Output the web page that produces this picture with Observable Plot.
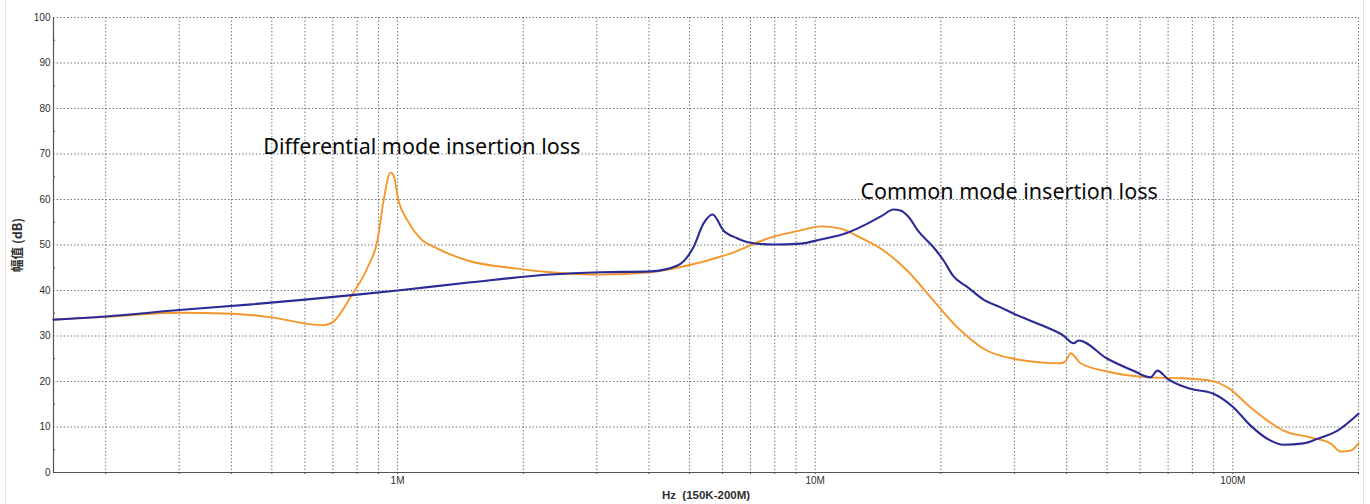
<!DOCTYPE html>
<html>
<head>
<meta charset="utf-8">
<script src="https://cdn.jsdelivr.net/npm/d3@7"></script>
<script src="https://cdn.jsdelivr.net/npm/@observablehq/plot@0.6"></script>
<style>
  html, body { margin: 0; padding: 0; background: #fff; }
  #wrap { position: relative; width: 1370px; height: 504px; overflow: hidden; }
  .edge { position: absolute; top: 0; width: 1px; height: 504px; background: #e2e2e2; }
</style>
</head>
<body>
<div id="wrap">
  <div class="edge" style="left:5px"></div>
  <div class="edge" style="left:1363px"></div>
</div>
<script>
// Frequencies in MHz, values in dB
const cmFreq = [0.15, 0.2, 0.3, 0.44, 0.6, 0.8, 1.0, 1.5, 2.32, 3.06, 4.03, 4.68, 5.11, 5.4, 5.68, 6.03, 6.5, 7.0, 7.95, 9.22, 10.3, 11.95, 13.34, 14.5, 15.4, 16.0, 16.8, 17.6, 19.2, 20.3, 21.4, 23.2, 25.3, 27.8, 29.9, 35, 39.3, 41.6, 42.7, 50.1, 58, 63.5, 66.0, 69.8, 79.2, 89.9, 100.4, 110.3, 123.2, 132.3, 147.7, 159.5, 178.2, 200];
const cmDb   = [33.6, 34.3, 35.7, 36.9, 38.0, 39.1, 40.0, 41.8, 43.5, 44.0, 44.2, 45.5, 49.5, 54.7, 56.7, 53.2, 51.5, 50.5, 50.1, 50.3, 51.2, 52.7, 54.7, 56.5, 57.8, 57.6, 56.0, 53.2, 49.5, 46.6, 43.2, 40.7, 38.0, 36.3, 34.9, 32.3, 30.1, 28.4, 29.0, 25.0, 22.3, 20.9, 22.4, 20.6, 18.4, 17.3, 14.3, 10.3, 7.0, 6.1, 6.4, 7.4, 9.2, 12.9];

const dmFreq = [0.15, 0.2, 0.3, 0.4, 0.5, 0.629, 0.665, 0.703, 0.718, 0.771, 0.847, 0.895, 0.926, 0.962, 0.978, 1.005, 1.056, 1.135, 1.247, 1.47, 1.94, 2.32, 3.06, 4.03, 4.68, 6.38, 7.69, 9.22, 10.3, 11.5, 12.84, 14.58, 16.6, 19.2, 21.9, 23.5, 25.3, 29.9, 38.7, 39.8, 40.9, 43.2, 50.1, 63.5, 76.2, 88.5, 97.1, 110.3, 121.1, 132.3, 153.5, 171.5, 181.1, 191.4, 200];
const dmDb   = [33.6, 34.2, 35.1, 34.9, 34.1, 32.5, 32.4, 33.2, 34.1, 38.5, 45.0, 51.0, 59.8, 65.9, 65.3, 59.8, 55.4, 51.4, 49.2, 46.6, 44.8, 44.0, 43.5, 44.0, 45.0, 48.4, 51.4, 53.2, 54.1, 53.6, 51.6, 48.8, 44.4, 37.8, 31.9, 29.4, 27.2, 25.0, 24.0, 24.5, 26.2, 24.0, 22.2, 20.9, 20.7, 20.2, 18.7, 14.3, 11.4, 9.2, 7.7, 6.4, 4.6, 4.8, 6.4];

const xTickValues = [1, 10, 100];
const xTickLabels = ["1M", "10M", "100M"];
const yTickValues = [0, 10, 20, 30, 40, 50, 60, 70, 80, 90, 100];
const yMinorTicks = [5, 15, 25, 35, 45, 55, 65, 75, 85, 95];
const gridFreqs = [0.2, 0.3, 0.4, 0.5, 0.6, 0.7, 0.8, 0.9, 1, 2, 3, 4, 5, 6, 7, 8, 9, 10, 20, 30, 40, 50, 60, 70, 80, 90, 100, 200];

const annoText = ["Differential mode insertion loss", "Common mode insertion loss"];
const annoFreq = [0.477, 12.84];
const annoDb = [71.6, 61.7];

const xTitle = "Hz  (150K-200M)";
const yTitle = "幅值 (dB)";

const cm = cmFreq.map((f, i) => ({f, v: cmDb[i]}));
const dm = dmFreq.map((f, i) => ({f, v: dmDb[i]}));
const annos = annoText.map((t, i) => ({t, f: annoFreq[i], v: annoDb[i]}));

const gridStyle = {stroke: "#666", strokeOpacity: 0.9, strokeDasharray: "1.5,2", strokeWidth: 1};

const chart = Plot.plot({
  width: 1370,
  height: 504,
  marginLeft: 53,
  marginRight: 12,
  marginTop: 17,
  marginBottom: 32,
  style: {background: "transparent", fontFamily: "'Liberation Sans', Arial, sans-serif", overflow: "visible"},
  x: {type: "log", domain: [0.15, 200]},
  y: {domain: [0, 100]},
  marks: [
    Plot.gridX(gridFreqs, gridStyle),
    Plot.gridY(yTickValues.slice(1), gridStyle),
    Plot.axisY({ticks: yTickValues, tickSize: 0, tickPadding: 3, fontSize: 10, fill: "#2e2e2e", label: null}),
    Plot.axisY({ticks: yMinorTicks, tickSize: 2, dx: 2, text: null, stroke: "#444", label: null}),
    Plot.axisX({ticks: gridFreqs, tickSize: 2, text: null, stroke: "#444", label: null}),
    Plot.axisX({ticks: xTickValues, tickFormat: d => xTickLabels[xTickValues.indexOf(d)], tickSize: 0, tickPadding: 4, fontSize: 10, fill: "#2e2e2e", label: null}),
    Plot.ruleX([0.15], {stroke: "#555", strokeWidth: 1.2}),
    Plot.ruleY([0], {stroke: "#555", strokeWidth: 1.2}),
    Plot.line(dm, {x: "f", y: "v", stroke: "#f5962a", strokeWidth: 1.9, curve: "monotone-x"}),
    Plot.line(cm, {x: "f", y: "v", stroke: "#2b2b96", strokeWidth: 2.1, curve: "monotone-x"}),
    Plot.text(annos, {x: "f", y: "v", text: "t", textAnchor: "start", fontSize: 21.5, fontFamily: "'Noto Sans', sans-serif", fill: "#0a0a0a"}),
    Plot.text([xTitle], {frameAnchor: "bottom", textAnchor: "middle", dy: 26, fontSize: 11.5, fontWeight: "bold", fill: "#2e2e2e"}),
    Plot.text([yTitle], {frameAnchor: "left", textAnchor: "middle", lineAnchor: "middle", dx: -36, rotate: -90, fontSize: 12.5, fontWeight: "bold", fill: "#2e2e2e", fontFamily: "'Noto Sans CJK SC', 'Liberation Sans', sans-serif"})
  ]
});
chart.style.position = "absolute";
chart.style.left = "0px";
chart.style.top = "0px";
document.getElementById("wrap").appendChild(chart);
</script>
</body>
</html>
